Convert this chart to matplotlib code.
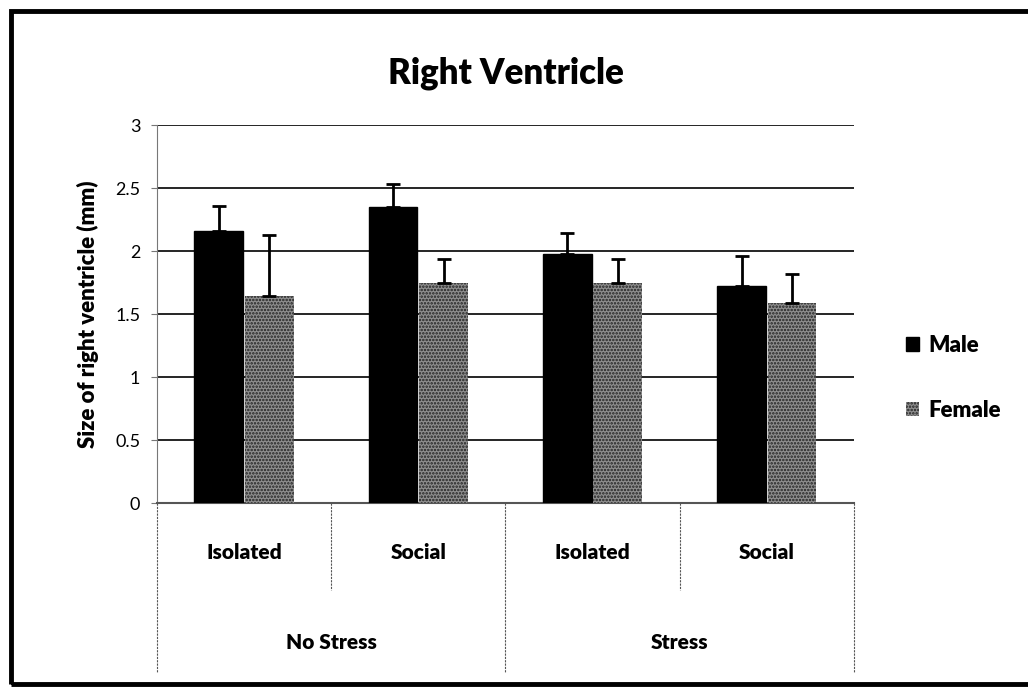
import numpy as np
import matplotlib
matplotlib.use('Agg')
import matplotlib.pyplot as plt
from matplotlib.patches import Rectangle, Patch

plt.rcParams['font.family'] = ['Lato', 'DejaVu Sans']
plt.rcParams['hatch.linewidth'] = 1.2

# data
inner_labels = ['Isolated', 'Social', 'Isolated', 'Social']
outer_labels = ['No Stress', 'Stress']
male = [2.16, 2.35, 1.98, 1.72]
male_err = [0.20, 0.18, 0.16, 0.24]
female = [1.64, 1.75, 1.75, 1.59]
female_err = [0.49, 0.19, 0.19, 0.23]

fig = plt.figure(figsize=(10.28, 6.87), dpi=100)
ax = fig.add_axes([0.1527, 0.2678, 0.678, 0.550])

x = np.arange(len(inner_labels))
ax.bar(x - 0.145, male, width=0.28, color='black', edgecolor='black', zorder=3)
ax.errorbar(x - 0.145, male, yerr=[np.zeros(4), male_err], fmt='none', ecolor='black',
            elinewidth=2, capsize=5, capthick=2, zorder=4)
ax.bar(x + 0.145, female, width=0.28, color='#8e8e8e', edgecolor='#222222', hatch='.....',
       linewidth=0, zorder=3)
ax.errorbar(x + 0.145, female, yerr=[np.zeros(4), female_err], fmt='none', ecolor='black',
            elinewidth=2, capsize=5, capthick=2, zorder=4)

ax.set_xlim(-0.5, 3.5)
ax.set_ylim(0, 3)
ax.set_yticks(np.arange(0, 3.01, 0.5))
ax.set_yticklabels(['0', '0.5', '1', '1.5', '2', '2.5', '3'], fontsize=13)
ax.yaxis.grid(True, color='black', linewidth=1.2, zorder=0)
ax.set_axisbelow(True)
ax.set_xticks([])
for s in ['top', 'right']:
    ax.spines[s].set_visible(False)
ax.spines['left'].set_color('#777777')
ax.spines['left'].set_linewidth(0.8)
ax.spines['bottom'].set_color('#555555')
ax.spines['bottom'].set_linewidth(1.5)
ax.tick_params(axis='y', length=4, color='#777777', pad=8)

ax.set_title('Right Ventricle', fontsize=25, fontweight='heavy', pad=30)
ax.set_ylabel('Size of right ventricle (mm)', fontsize=16, fontweight='heavy', labelpad=12)

# two-level category axis
tr = ax.get_xaxis_transform()
for i, lab in enumerate(inner_labels):
    ax.text(i, -0.13, lab, transform=tr, ha='center', va='center', fontsize=15, fontweight='heavy')
for i, lab in enumerate(outer_labels):
    ax.text(2 * i + 0.5, -0.37, lab, transform=tr, ha='center', va='center', fontsize=15, fontweight='heavy')
for xd in [0.5, 2.5]:
    ax.plot([xd, xd], [0, -0.23], transform=tr, color='#555555', lw=0.8, ls=(0, (2, 1)), clip_on=False)
for xd in [-0.5, 1.5, 3.5]:
    ax.plot([xd, xd], [0, -0.45], transform=tr, color='#555555', lw=0.8, ls=(0, (2, 1)), clip_on=False)

# legend
handles = [Patch(facecolor='black', edgecolor='black', label='Male'),
           Patch(facecolor='#8e8e8e', edgecolor='#222222', hatch='.....', linewidth=0, label='Female')]
fig.legend(handles=handles, loc='center left', bbox_to_anchor=(0.862, 0.45), frameon=False,
           prop={'size': 16, 'weight': 'heavy'}, handlelength=0.6, handleheight=0.6,
           handletextpad=0.4, labelspacing=2.0)

# outer frame
fig.patches.append(Rectangle((0.011, 0.004), 0.99, 0.98, transform=fig.transFigure,
                             fill=False, edgecolor='black', linewidth=3.5))

fig.savefig('out.png', dpi=100)
